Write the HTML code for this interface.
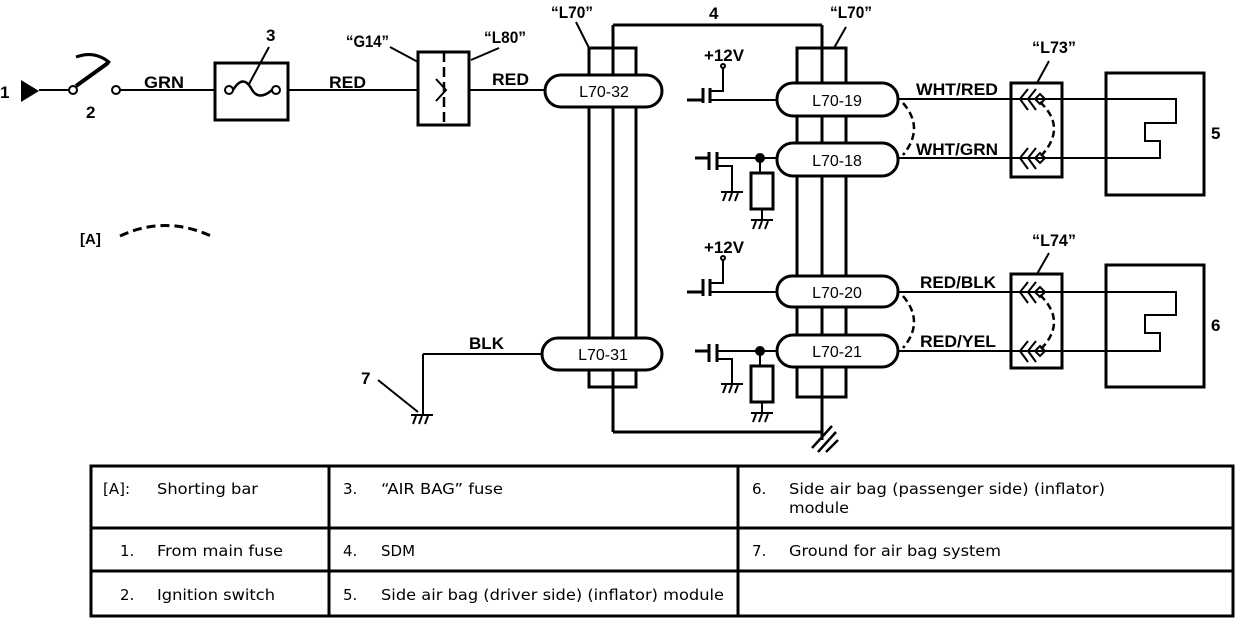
<!DOCTYPE html>
<html><head><meta charset="utf-8"><style>
html,body{margin:0;padding:0;background:#fff;}
svg{display:block;}
.l{font-family:"Liberation Sans",Arial,sans-serif;font-weight:bold;font-size:17px;}
.t{font-family:"DejaVu Sans","Liberation Sans",sans-serif;font-size:15px;}
</style></head><body>
<svg width="1248" height="638" viewBox="0 0 1248 638" xmlns="http://www.w3.org/2000/svg">
<defs>
<g id="gnd" stroke="#000" stroke-width="2" fill="none">
<line x1="-11" y1="0" x2="11" y2="0"/>
<line x1="-6" y1="1" x2="-9" y2="9"/><line x1="0" y1="1" x2="-3" y2="9"/><line x1="6" y1="1" x2="3" y2="9"/>
</g>
</defs>
<g stroke="#000" fill="none" stroke-width="2">
<polygon points="21,80 39,91 21,102" fill="#000" stroke="none"/>
<line x1="39" y1="90" x2="69" y2="90"/>
<circle cx="73" cy="90" r="4"/>
<line x1="76" y1="86" x2="108" y2="63" stroke-width="4"/>
<path d="M76,57 Q95,50 110,63" stroke-width="3"/>
<circle cx="116" cy="90" r="4"/>
<line x1="120" y1="90" x2="215" y2="90"/>
<rect x="215" y="63" width="73" height="57" stroke-width="3"/>
<circle cx="229" cy="90" r="4"/><circle cx="276" cy="90" r="4"/>
<path d="M233,90 Q243,74 251,88 Q258,102 272,90" stroke-width="2.5"/>
<line x1="269" y1="47" x2="249" y2="84"/>
<line x1="288" y1="90" x2="418" y2="90"/>
<rect x="418" y="52" width="51" height="73" stroke-width="3"/>
<line x1="444" y1="52" x2="444" y2="125" stroke-dasharray="10,5" stroke-width="2.5"/>
<path d="M436,79 L446,90 L436,101"/>
<line x1="469" y1="90" x2="545" y2="90"/>
<line x1="390" y1="47" x2="418" y2="62"/>
<line x1="499" y1="48" x2="471" y2="60"/>
<path d="M120,236 Q165,215 211,236" stroke-width="3" stroke-dasharray="9,5"/>
<rect x="589" y="48" width="47" height="339" stroke-width="3"/>
<line x1="613" y1="25" x2="613" y2="432" stroke-width="3"/>
<line x1="613" y1="25" x2="822" y2="25" stroke-width="3"/>
<line x1="613" y1="432" x2="822" y2="432" stroke-width="3"/>
<line x1="576" y1="22" x2="589" y2="48"/>
<rect x="797" y="48" width="49" height="349" stroke-width="3"/>
<line x1="822" y1="25" x2="822" y2="440" stroke-width="3"/>
<line x1="846" y1="27" x2="834" y2="48"/>
<line x1="812" y1="448" x2="832" y2="426" stroke-width="2.5"/>
<line x1="818" y1="452" x2="836" y2="432" stroke-width="2.5"/>
<line x1="826" y1="452" x2="838" y2="440" stroke-width="2.5"/>
<rect x="545" y="75" width="117" height="32" rx="16" stroke-width="3" fill="#fff"/>
<rect x="542" y="338" width="120" height="32" rx="16" stroke-width="3" fill="#fff"/>
<rect x="777" y="83" width="121" height="33" rx="16" stroke-width="3" fill="#fff"/>
<rect x="777" y="143" width="121" height="33" rx="16" stroke-width="3" fill="#fff"/>
<rect x="777" y="276" width="121" height="31" rx="15" stroke-width="3" fill="#fff"/>
<rect x="777" y="335" width="121" height="32" rx="16" stroke-width="3" fill="#fff"/>
<line x1="542" y1="354" x2="423" y2="354"/>
<line x1="423" y1="354" x2="423" y2="415"/>
<use href="#gnd" x="422" y="415"/>
<line x1="378" y1="380" x2="418" y2="412"/>
<line x1="687" y1="100" x2="703" y2="100" stroke-width="3"/>
<line x1="703" y1="88" x2="703" y2="103" stroke-width="3"/>
<line x1="710" y1="88" x2="710" y2="103" stroke-width="3"/>
<line x1="710" y1="100" x2="777" y2="100"/>
<polyline points="710,91 723,91 723,68"/>
<circle cx="723" cy="66" r="2"/>
<line x1="695" y1="158" x2="709" y2="158" stroke-width="3"/>
<line x1="709" y1="152" x2="709" y2="170" stroke-width="3"/>
<line x1="717" y1="152" x2="717" y2="170" stroke-width="3"/>
<line x1="717" y1="158" x2="777" y2="158"/>
<polyline points="717,166 732,166 732,192"/>
<use href="#gnd" x="732" y="192"/>
<circle cx="760" cy="158" r="4" fill="#000"/>
<line x1="760" y1="158" x2="760" y2="173"/>
<rect x="751" y="173" width="22" height="36" stroke-width="3"/>
<line x1="762" y1="209" x2="762" y2="220"/>
<use href="#gnd" x="762" y="220"/>
<line x1="687" y1="292" x2="703" y2="292" stroke-width="3"/>
<line x1="703" y1="279" x2="703" y2="296" stroke-width="3"/>
<line x1="710" y1="279" x2="710" y2="296" stroke-width="3"/>
<line x1="710" y1="292" x2="777" y2="292"/>
<polyline points="710,283 723,283 723,260"/>
<circle cx="723" cy="258" r="2"/>
<line x1="695" y1="351" x2="709" y2="351" stroke-width="3"/>
<line x1="709" y1="344" x2="709" y2="362" stroke-width="3"/>
<line x1="717" y1="344" x2="717" y2="362" stroke-width="3"/>
<line x1="717" y1="351" x2="777" y2="351"/>
<polyline points="717,359 732,359 732,384"/>
<use href="#gnd" x="732" y="384"/>
<circle cx="760" cy="351" r="4" fill="#000"/>
<line x1="760" y1="351" x2="760" y2="366"/>
<rect x="751" y="366" width="22" height="36" stroke-width="3"/>
<line x1="762" y1="402" x2="762" y2="413"/>
<use href="#gnd" x="762" y="413"/>
<polyline points="898,99 1176,99 1176,123 1145,123 1145,141 1160,141 1160,158 898,158"/>
<rect x="1011" y="83" width="51" height="94" stroke-width="3"/>
<rect x="1106" y="73" width="98" height="122" stroke-width="3"/>
<path d="M903,103 Q925,128 903,155" stroke-width="2.5" stroke-dasharray="7,4"/>
<path d="M1040,102 Q1068,128 1040,157" stroke-width="2.5" stroke-dasharray="7,4"/>
<path d="M1028,89 L1020,99 L1028,110 M1036,89 L1028,99 L1036,110"/>
<path d="M1028,148 L1020,158 L1028,169 M1036,148 L1028,158 L1036,169"/>
<path d="M1040,94 L1045,99 L1040,104 L1035,99 Z M1040,153 L1045,158 L1040,163 L1035,158 Z"/>
<line x1="1049" y1="61" x2="1037" y2="83"/>
<polyline points="898,292 1176,292 1176,315 1145,315 1145,333 1160,333 1160,351 898,351"/>
<rect x="1011" y="274" width="51" height="94" stroke-width="3"/>
<rect x="1106" y="265" width="98" height="122" stroke-width="3"/>
<path d="M903,296 Q925,322 903,348" stroke-width="2.5" stroke-dasharray="7,4"/>
<path d="M1040,295 Q1068,322 1040,350" stroke-width="2.5" stroke-dasharray="7,4"/>
<path d="M1028,282 L1020,292 L1028,303 M1036,282 L1028,292 L1036,303"/>
<path d="M1028,341 L1020,351 L1028,362 M1036,341 L1028,351 L1036,362"/>
<path d="M1040,287 L1045,292 L1040,297 L1035,292 Z M1040,346 L1045,351 L1040,356 L1035,351 Z"/>
<line x1="1049" y1="253" x2="1037" y2="274"/>
</g>
<g class="l">
<text x="0" y="98">1</text>
<text x="86" y="118">2</text>
<text x="266" y="41">3</text>
<text x="144" y="88" textLength="40" lengthAdjust="spacingAndGlyphs">GRN</text>
<text x="329" y="88" textLength="37" lengthAdjust="spacingAndGlyphs">RED</text>
<text x="492" y="85" textLength="37" lengthAdjust="spacingAndGlyphs">RED</text>
<text x="346" y="47" textLength="43" lengthAdjust="spacingAndGlyphs">“G14”</text>
<text x="484" y="43" textLength="42" lengthAdjust="spacingAndGlyphs">“L80”</text>
<text x="551" y="18" textLength="42" lengthAdjust="spacingAndGlyphs">“L70”</text>
<text x="830" y="18" textLength="42" lengthAdjust="spacingAndGlyphs">“L70”</text>
<text x="709" y="19">4</text>
<text x="1032" y="53" textLength="44" lengthAdjust="spacingAndGlyphs">“L73”</text>
<text x="1032" y="246" textLength="44" lengthAdjust="spacingAndGlyphs">“L74”</text>
<text x="1211" y="139">5</text>
<text x="1211" y="331">6</text>
<text x="361" y="384">7</text>
<text x="80" y="244" font-size="15">[A]</text>
<text x="469" y="349" textLength="35" lengthAdjust="spacingAndGlyphs">BLK</text>
<text x="704" y="61" textLength="40" lengthAdjust="spacingAndGlyphs">+12V</text>
<text x="704" y="253" textLength="40" lengthAdjust="spacingAndGlyphs">+12V</text>
<text x="916" y="95" textLength="82" lengthAdjust="spacingAndGlyphs">WHT/RED</text>
<text x="916" y="155" textLength="82" lengthAdjust="spacingAndGlyphs">WHT/GRN</text>
<text x="920" y="288" textLength="76" lengthAdjust="spacingAndGlyphs">RED/BLK</text>
<text x="920" y="347" textLength="76" lengthAdjust="spacingAndGlyphs">RED/YEL</text>
<g font-weight="normal" text-anchor="middle" font-size="16">
<text x="604" y="97">L70-32</text>
<text x="603" y="360">L70-31</text>
<text x="837" y="106">L70-19</text>
<text x="837" y="166">L70-18</text>
<text x="837" y="298">L70-20</text>
<text x="837" y="357">L70-21</text>
</g>
</g>
<g stroke="#000" stroke-width="3" fill="none">
<rect x="91" y="466" width="1142" height="150"/>
<line x1="91" y1="528" x2="1233" y2="528"/>
<line x1="91" y1="571" x2="1233" y2="571"/>
<line x1="329" y1="466" x2="329" y2="616"/>
<line x1="738" y1="466" x2="738" y2="616"/>
</g>
<g class="t">
<text x="103" y="494">[A]:</text><text x="157" y="494" textLength="101" lengthAdjust="spacingAndGlyphs">Shorting bar</text>
<text x="120" y="556">1.</text><text x="157" y="556" textLength="126" lengthAdjust="spacingAndGlyphs">From main fuse</text>
<text x="120" y="600">2.</text><text x="157" y="600" textLength="118" lengthAdjust="spacingAndGlyphs">Ignition switch</text>
<text x="343" y="494">3.</text><text x="381" y="494" textLength="122" lengthAdjust="spacingAndGlyphs">“AIR BAG” fuse</text>
<text x="343" y="556">4.</text><text x="381" y="556">SDM</text>
<text x="343" y="600">5.</text><text x="381" y="600" textLength="343" lengthAdjust="spacingAndGlyphs">Side air bag (driver side) (inflator) module</text>
<text x="752" y="494">6.</text><text x="789" y="494" textLength="316" lengthAdjust="spacingAndGlyphs">Side air bag (passenger side) (inflator)</text>
<text x="789" y="513" textLength="60" lengthAdjust="spacingAndGlyphs">module</text>
<text x="752" y="556">7.</text><text x="789" y="556" textLength="212" lengthAdjust="spacingAndGlyphs">Ground for air bag system</text>
</g>
</svg>
</body></html>
